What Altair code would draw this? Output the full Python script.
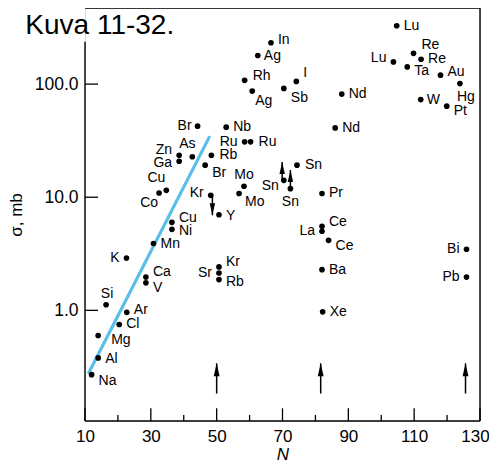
import altair as alt
import pandas as pd

# ---------------- data ----------------
elements = ["Na", "Al", "Mg", "Cl", "Ar", "Si", "K", "Ca", "V", "Mn",
            "Cu", "Ni", "Co", "Cu", "Ga", "Zn", "As", "Rb", "Br", "Br",
            "Nb", "Ru", "Ru", "Rh", "Ag", "Ag", "In", "I", "Sb", "Nd",
            "Nd", "Lu", "Lu", "Re", "Re", "Ta", "Au", "Hg", "W", "Pt",
            "Sn", "Sn", "Sn", "Mo", "Mo", "Kr", "Y", "Kr", "Sr", "Rb",
            "Pr", "Ce", "La", "Ce", "Ba", "Bi", "Pb", "Xe"]
neutrons = [12.0, 14.0, 14.0, 20.4, 22.7, 16.4, 22.6, 28.5, 28.5, 30.8,
            36.4, 36.4, 32.5, 34.7, 38.6, 38.6, 42.6, 48.4, 46.5, 44.2,
            52.9, 58.5, 60.3, 58.5, 60.8, 62.5, 66.5, 74.2, 70.4, 88.0,
            86.0, 104.7, 103.7, 109.8, 112.1, 107.9, 118.0, 123.9, 112.0, 119.9,
            74.4, 70.4, 72.4, 58.3, 56.8, 48.2, 50.7, 50.7, 50.7, 50.7,
            82.0, 82.0, 82.0, 84.0, 82.0, 125.9, 125.9, 82.2]
sigma_mb = [0.27, 0.38, 0.60, 0.75, 0.96, 1.12, 2.9, 1.97, 1.75, 3.9,
            6.0, 5.2, 10.9, 11.5, 20.8, 23.5, 22.8, 23.5, 19.2, 42.5,
            41.6, 30.9, 30.9, 108, 86.7, 179, 232, 105.6, 91.6, 81.6,
            41.0, 328, 157, 187, 166, 142, 120, 101, 73, 63.8,
            19.2, 14.1, 11.9, 12.5, 10.8, 10.4, 7.0, 2.42, 2.14, 1.87,
            10.8, 5.53, 5.0, 4.16, 2.29, 3.47, 1.97, 0.97]

fit_N = [11.0, 47.9]
fit_sigma = [0.275, 34.7]

magic_N = [50.0, 81.6, 125.6]
magic_from = [0.184, 0.184, 0.184]
magic_to = [0.34, 0.34, 0.34]

limit_up_N = [69.9, 72.4]
limit_up_from = [14.1, 11.9]
limit_up_to = [20.5, 17.4]

limit_down_N = [48.7]
limit_down_from = [10.4]
limit_down_to = [6.93]

x_major = [10, 30, 50, 70, 90, 110, 130]
x_minor = [20, 40, 60, 80, 100, 120]
y_major = [1, 10, 100]

title_text = "Kuva 11-32."

# ---------------- styling ----------------
W, H = 395, 413
FONT = "Liberation Sans"
label_place = [
    ("left", 7, 6), ("left", 7, 1), ("left", 13, 5), ("left", 7, 0), ("left", 7, -2),
    ("center", 1, -11), ("right", -7, 0), ("left", 7, -5), ("left", 7, 5), ("left", 7, 1),
    ("left", 7, -4), ("left", 7, 2), ("right", -1, 10), ("right", -1, -12), ("right", -7, 2),
    ("right", -7, -5), ("center", -5, -13), ("left", 8, 0), ("left", 7, 8), ("right", -6, 0),
    ("left", 7, 0), ("right", -7, 0), ("left", 8, 0), ("left", 8, -4), ("left", 3, 10),
    ("left", 6, 0), ("left", 7, -3), ("left", 7, -8), ("left", 7, 10), ("left", 7, 0),
    ("left", 7, 0), ("left", 7, 0), ("right", -7, -4), ("left", 8, -8), ("left", 7, 0),
    ("left", 7, 4), ("left", 7, -3), ("center", 6, 13), ("left", 6, 0), ("left", 7, 5),
    ("left", 8, 0), ("right", -5, 6), ("center", 0, 13), ("center", 0, -11), ("left", 6, 9),
    ("right", -7, -2), ("left", 7, 1), ("left", 7, -5), ("right", -7, 0), ("left", 7, 2),
    ("left", 7, 0), ("left", 7, -4), ("right", -7, 0), ("left", 7, 6), ("left", 7, 0),
    ("right", -7, 0), ("right", -7, 0), ("left", 7, 0),
]

xs = alt.Scale(domain=[10, 130], nice=False, zero=False)
ys = alt.Scale(type="log", domain=[0.1052, 470.7], nice=False)

pts = pd.DataFrame({"N": neutrons, "sigma": sigma_mb, "el": elements,
                    "i": list(range(len(elements)))})
fit = pd.DataFrame({"N": fit_N, "sigma": fit_sigma})
magic = pd.DataFrame({"N": magic_N, "s0": magic_from, "s1": magic_to})
lup = pd.DataFrame({"N": limit_up_N, "s0": limit_up_from, "s1": limit_up_to})
ldn = pd.DataFrame({"N": limit_down_N, "s0": limit_down_from, "s1": limit_down_to})
one = pd.DataFrame({"t": [title_text]})
xmaj = pd.DataFrame({"N": x_major})
xmin = pd.DataFrame({"N": x_minor})
ymaj = pd.DataFrame({"sigma": y_major})

layers = []

points = alt.Chart(pts).mark_circle(size=32, color="black", opacity=1).encode(
    x=alt.X("N:Q", scale=xs, axis=alt.Axis(
        values=x_major, tickSize=0, domain=False, grid=False, labelFlush=False,
        labelFontSize=17, labelPadding=7, labelColor="black", labelFont=FONT,
        labelOffset={"condition": {"test": "datum.value == 130", "value": -5}, "value": 0},
        title="N", titleFontStyle="italic", titleFontWeight="normal",
        titleFontSize=17, titleFont=FONT, titlePadding=2, titleColor="black")),
    y=alt.Y("sigma:Q", scale=ys, axis=alt.Axis(
        values=y_major, format=".1f", tickSize=0, domain=False, grid=False,
        labelFlush=False, labelFontSize=17.5, labelPadding=7, labelColor="black",
        labelFont=FONT, title="σ, mb", titleFontWeight="normal", titleFontSize=17,
        titleFont=FONT, titlePadding=9, titleColor="black")),
)

fit_line = alt.Chart(fit).mark_line(color="#5bbdea", strokeWidth=3.2).encode(
    x=alt.X("N:Q", scale=xs), y=alt.Y("sigma:Q", scale=ys))
layers.append(fit_line)
layers.append(points)

groups = {}
for idx, p in enumerate(label_place):
    groups.setdefault(p, []).append(idx)
for (al, dx, dy), idxs in groups.items():
    layers.append(
        alt.Chart(pts).mark_text(align=al, baseline="middle", dx=dx, dy=dy,
                                 fontSize=14, font=FONT, color="black")
        .encode(x=alt.X("N:Q", scale=xs), y=alt.Y("sigma:Q", scale=ys), text="el:N")
        .transform_filter(alt.FieldOneOfPredicate(field="i", oneOf=idxs))
    )

UP = "M0,0L0.45,2L-0.45,2Z"
DOWN = "M0,0L0.45,-2L-0.45,-2Z"
for df, shape, size in [(magic, UP, 169), (lup, UP, 144), (ldn, DOWN, 144)]:
    layers.append(alt.Chart(df).mark_rule(color="black", strokeWidth=1.5).encode(
        x=alt.X("N:Q", scale=xs), y=alt.Y("s0:Q", scale=ys), y2="s1:Q"))
    layers.append(alt.Chart(df).mark_point(shape=shape, size=size, filled=True,
                                           color="black", opacity=1).encode(
        x=alt.X("N:Q", scale=xs), y=alt.Y("s1:Q", scale=ys)))

layers.append(alt.Chart(xmaj).mark_rule(color="black", strokeWidth=1.3).encode(
    x=alt.X("N:Q", scale=xs), y=alt.value(H), y2=alt.value(H - 12.7)))
layers.append(alt.Chart(xmin).mark_rule(color="black", strokeWidth=1.3).encode(
    x=alt.X("N:Q", scale=xs), y=alt.value(H), y2=alt.value(H - 6)))
layers.append(alt.Chart(ymaj).mark_rule(color="black", strokeWidth=1.3).encode(
    y=alt.Y("sigma:Q", scale=ys), x=alt.value(0), x2=alt.value(13)))

fr = dict(color="black", strokeWidth=1.4)
layers.append(alt.Chart(one).mark_rule(**fr).encode(
    x=alt.value(0), x2=alt.value(W), y=alt.value(0)))
layers.append(alt.Chart(one).mark_rule(**fr).encode(
    x=alt.value(W), y=alt.value(0), y2=alt.value(H)))
layers.append(alt.Chart(one).mark_rule(**fr).encode(
    x=alt.value(0), x2=alt.value(W), y=alt.value(H)))
layers.append(alt.Chart(one).mark_rule(**fr).encode(
    x=alt.value(0), y=alt.value(33.7), y2=alt.value(H)))

layers.append(alt.Chart(one).mark_text(align="left", baseline="alphabetic",
                                       fontSize=28, font=FONT, color="black").encode(
    x=alt.value(-59.7), y=alt.value(25.8), text="t:N"))

chart = alt.layer(*layers).properties(
    width=W, height=H,
    autosize=alt.AutoSizeParams(type="none"),
    padding={"left": 77, "top": 0, "right": 9, "bottom": 42},
).configure_view(stroke=None).configure(background="white")

chart.save("out.html", embed_options={"renderer": "svg", "actions": False})
